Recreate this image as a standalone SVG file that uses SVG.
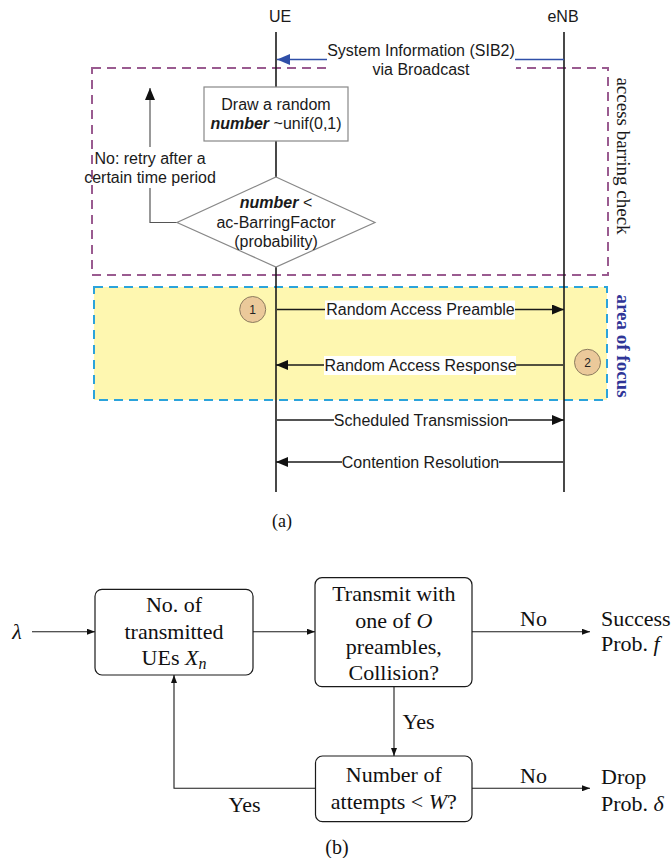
<svg xmlns="http://www.w3.org/2000/svg" width="671" height="858" viewBox="0 0 671 858">
<style>
.ll{stroke:#1a1a1a;stroke-width:1.6}
.msg{stroke:#1a1a1a;stroke-width:1.5;fill:none}
.sans{font-family:"Liberation Sans",Arial,sans-serif;font-size:16px;fill:#1a1a1a}
.serif{font-family:"Liberation Serif","Times New Roman",serif;font-size:22px;fill:#111}
.bx{fill:#fff;stroke:#1a1a1a;stroke-width:1.2}
.cn{stroke:#1a1a1a;stroke-width:1.1;fill:none}
.lbg{fill:#fff}
.num{fill:#EBC99A;stroke:#8B7B5E;stroke-width:1}
.it{font-style:italic}
</style>
<defs>
<marker id="ah" markerUnits="userSpaceOnUse" markerWidth="12" markerHeight="10" refX="12" refY="5" orient="auto"><path d="M0,0 L12,5 L0,10 z" fill="#111"/></marker>
<marker id="ahb" markerUnits="userSpaceOnUse" markerWidth="13" markerHeight="11" refX="13" refY="5.5" orient="auto"><path d="M0,0 L13,5.5 L0,11 z" fill="#2F4FA8"/></marker>
<marker id="lx" markerUnits="userSpaceOnUse" markerWidth="8" markerHeight="6" refX="8" refY="3" orient="auto"><path d="M0,0 L8,3 L0,6 z" fill="#111"/></marker>
</defs>

<!-- (a) regions -->
<g id="area-of-focus">
<rect x="94" y="287" width="513" height="113" fill="#FEF7B0" stroke="#2BA3DB" stroke-width="2" stroke-dasharray="9 6"/>
<text transform="translate(617,346) rotate(90)" text-anchor="middle" font-family="Liberation Serif,serif" font-size="19" font-weight="bold" fill="#2F3597">area of focus</text>
</g>
<g id="access-barring">
<rect x="92" y="68" width="516" height="207" fill="none" stroke="#9A5B90" stroke-width="2" stroke-dasharray="9 6"/>
<text transform="translate(616.5,156) rotate(90)" text-anchor="middle" font-family="Liberation Serif,serif" font-size="19" fill="#1a1a1a">access barring check</text>
</g>

<g id="UE">
<text x="280" y="22" class="sans" text-anchor="middle">UE</text>
<line class="ll" x1="276" y1="32" x2="276" y2="492"/>
</g>
<g id="eNB">
<text x="563" y="22" class="sans" text-anchor="middle">eNB</text>
<line class="ll" x1="564" y1="32" x2="564" y2="492"/>
</g>

<g id="connectors-a">
<rect class="lbg" x="326" y="40" width="190" height="40"/>
<line x1="564" y1="59.5" x2="515" y2="59.5" stroke="#2F4FA8" stroke-width="1.6"/>
<line x1="327" y1="59.5" x2="277" y2="59.5" stroke="#2F4FA8" stroke-width="1.6" marker-end="url(#ahb)"/>
<text x="421" y="55.5" class="sans" text-anchor="middle">System Information (SIB2)</text>
<text x="421" y="75" class="sans" text-anchor="middle">via Broadcast</text>

<polyline points="177,222.5 150,222.5 150,188" stroke="#555" stroke-width="1.2" fill="none"/>
<line x1="150" y1="147" x2="150" y2="88" stroke="#555" stroke-width="1.2" marker-end="url(#ah)"/>
<text x="150" y="164" class="sans" text-anchor="middle">No: retry after a</text>
<text x="150" y="182.5" class="sans" text-anchor="middle">certain time period</text>

<line class="msg" x1="277" y1="309.5" x2="564" y2="309.5" marker-end="url(#ah)"/>
<rect class="lbg" x="325" y="300.5" width="190" height="19"/>
<text x="420.5" y="315" class="sans" text-anchor="middle">Random Access Preamble</text>

<line class="msg" x1="563" y1="365" x2="276" y2="365" marker-end="url(#ah)"/>
<rect class="lbg" x="324" y="356" width="192" height="19"/>
<text x="420.5" y="370.5" class="sans" text-anchor="middle">Random Access Response</text>

<line class="msg" x1="277" y1="420" x2="564" y2="420" marker-end="url(#ah)"/>
<rect class="lbg" x="334" y="411" width="174" height="19"/>
<text x="421" y="425.5" class="sans" text-anchor="middle">Scheduled Transmission</text>

<line class="msg" x1="563" y1="462" x2="276" y2="462" marker-end="url(#ah)"/>
<rect class="lbg" x="342" y="453" width="157" height="19"/>
<text x="420.5" y="467.5" class="sans" text-anchor="middle">Contention Resolution</text>
</g>

<g id="draw-random">
<rect x="204" y="87" width="144" height="54" fill="#fff" stroke="#888" stroke-width="1.2"/>
<text x="276" y="109.5" class="sans" text-anchor="middle">Draw a random</text>
<text x="276" y="129" class="sans" text-anchor="middle"><tspan font-weight="bold" font-style="italic">number</tspan> ~unif(0,1)</text>
</g>
<g id="barring-decision">
<polygon points="276,177 375,222.5 276,267 177,222.5" fill="#fff" stroke="#888" stroke-width="1.2"/>
<text x="276" y="208" class="sans" text-anchor="middle"><tspan font-weight="bold" font-style="italic">number</tspan>  &lt;</text>
<text x="276" y="228" class="sans" text-anchor="middle">ac-BarringFactor</text>
<text x="276" y="246.5" class="sans" text-anchor="middle">(probability)</text>
</g>
<g id="step1">
<circle class="num" cx="252.7" cy="309.5" r="13"/>
<text x="252.7" y="313.8" font-family="Liberation Sans,sans-serif" font-size="12" text-anchor="middle" fill="#222">1</text>
</g>
<g id="step2">
<circle class="num" cx="587.5" cy="362.3" r="13"/>
<text x="587.5" y="366.6" font-family="Liberation Sans,sans-serif" font-size="12" text-anchor="middle" fill="#222">2</text>
</g>
<text x="282" y="527" font-family="Liberation Serif,serif" font-size="18" text-anchor="middle" fill="#111">(a)</text>

<!-- (b) -->
<g id="connectors-b">
<line class="cn" x1="32" y1="631.7" x2="95" y2="631.7" marker-end="url(#lx)"/>
<line class="cn" x1="253" y1="631.7" x2="315" y2="631.7" marker-end="url(#lx)"/>
<line class="cn" x1="472" y1="631.7" x2="590" y2="631.7" marker-end="url(#lx)"/>
<line class="cn" x1="394" y1="686.7" x2="394" y2="756" marker-end="url(#lx)"/>
<line class="cn" x1="472" y1="788.3" x2="590" y2="788.3" marker-end="url(#lx)"/>
<polyline class="cn" points="315.5,788.3 174,788.3 174,675" marker-end="url(#lx)"/>
<text x="533.5" y="626" class="serif" text-anchor="middle">No</text>
<text x="533.5" y="783" class="serif" text-anchor="middle">No</text>
<text x="418.5" y="729" class="serif" text-anchor="middle">Yes</text>
<text x="244.6" y="812" class="serif" text-anchor="middle">Yes</text>
</g>
<g id="lambda"><text x="17" y="639" class="serif it" text-anchor="middle">λ</text></g>
<g id="box-transmitted">
<rect class="bx" x="95" y="589.3" width="158" height="85.7" rx="7"/>
<text x="174" y="612" class="serif" text-anchor="middle">No. of</text>
<text x="174" y="639" class="serif" text-anchor="middle">transmitted</text>
<text x="174" y="665" class="serif" text-anchor="middle">UEs <tspan class="it">X</tspan><tspan class="it" font-size="16" dy="4">n</tspan></text>
</g>
<g id="box-collision">
<rect class="bx" x="315" y="577.7" width="157" height="109" rx="7"/>
<text x="393.8" y="601" class="serif" text-anchor="middle">Transmit with</text>
<text x="393.8" y="627.5" class="serif" text-anchor="middle">one of <tspan class="it">O</tspan></text>
<text x="393.8" y="653.5" class="serif" text-anchor="middle">preambles,</text>
<text x="393.8" y="680" class="serif" text-anchor="middle">Collision?</text>
</g>
<g id="box-attempts">
<rect class="bx" x="315.5" y="756" width="156.5" height="65.7" rx="7"/>
<text x="393.8" y="782" class="serif" text-anchor="middle">Number of</text>
<text x="393.8" y="809" class="serif" text-anchor="middle">attempts &lt; <tspan class="it">W</tspan>?</text>
</g>
<g id="success">
<text x="601" y="626" class="serif">Success</text>
<text x="601" y="651" class="serif">Prob. <tspan class="it">f</tspan></text>
</g>
<g id="drop">
<text x="601" y="783.5" class="serif">Drop</text>
<text x="601" y="811" class="serif">Prob. <tspan class="it">δ</tspan></text>
</g>
<text x="337" y="854" font-family="Liberation Serif,serif" font-size="20" text-anchor="middle" fill="#111">(b)</text>
</svg>
